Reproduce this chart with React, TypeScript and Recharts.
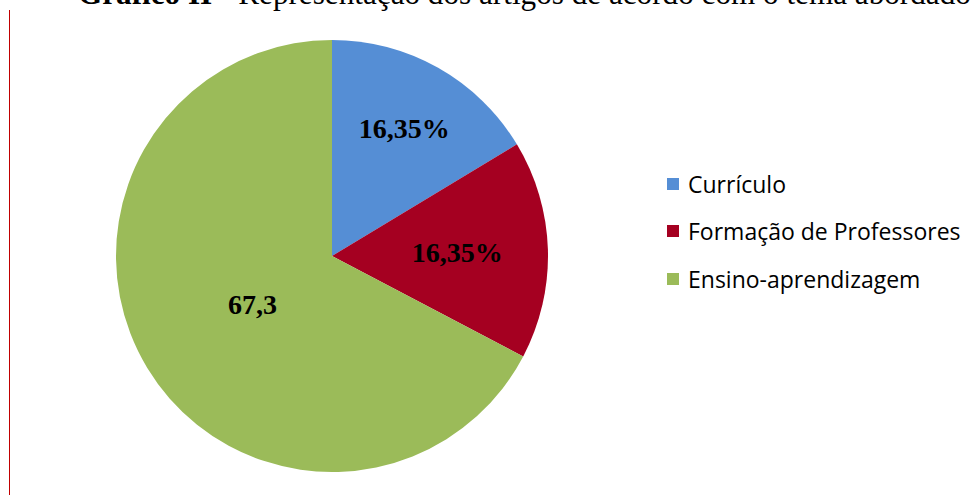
import React from "react";
import { PieChart, Pie, Cell, Legend } from "recharts";

const categories = ["Currículo", "Formação de Professores", "Ensino-aprendizagem"];
const values = [16.35, 16.35, 67.3];
const labels = ["16,35%", "16,35%", "67,3"];
const colors = ["#558ED5", "#A50021", "#9BBB59"];
const labelRadius = [0.68, 0.58, 0.43];

const data = categories.map((name, i) => ({ name, value: values[i] }));
const RADIAN = Math.PI / 180;

const renderLabel = (props: any) => {
  const { cx, cy, midAngle, outerRadius, index } = props;
  const r = outerRadius * labelRadius[index];
  const x = cx + r * Math.cos(-midAngle * RADIAN);
  const y = cy + r * Math.sin(-midAngle * RADIAN);
  return (
    <text
      x={x}
      y={y}
      textAnchor="middle"
      dominantBaseline="central"
      fill="#000"
      fontFamily="'Liberation Serif', 'Times New Roman', serif"
      fontWeight="bold"
      fontSize={28}
    >
      {labels[index]}
    </text>
  );
};

const renderLegend = () => (
  <div style={{ fontFamily: "'Open Sans', 'Noto Sans', sans-serif", fontSize: 23, color: "#000" }}>
    {categories.map((c, i) => (
      <div key={c} style={{ display: "flex", alignItems: "center", height: 47.5 }}>
        <span style={{ display: "inline-block", width: 12, height: 12, background: colors[i], marginRight: 9, flex: "none" }} />
        <span style={{ whiteSpace: "nowrap" }}>{c}</span>
      </div>
    ))}
  </div>
);

export default function App() {
  return (
    <div style={{ position: "fixed", left: 0, top: 0, width: 974, height: 495, background: "#fff", overflow: "hidden" }}>
      <div
        style={{
          position: "absolute",
          left: 78,
          top: -24,
          whiteSpace: "nowrap",
          fontFamily: "'Liberation Serif', 'Times New Roman', serif",
          fontSize: 31.2,
          lineHeight: "36px",
          color: "#000",
        }}
      >
        <b>Gráfico II</b> - Representação dos artigos de acordo com o tema abordado
      </div>
      <div style={{ position: "absolute", left: 9, top: 10, width: 1, height: 485, background: "#C00000" }} />
      <PieChart width={974} height={495} style={{ position: "absolute", left: 0, top: 0 }}>
        <Pie
          data={data}
          dataKey="value"
          nameKey="name"
          cx={327}
          cy={251}
          outerRadius={216}
          startAngle={90}
          endAngle={-270}
          stroke="none"
          label={renderLabel}
          labelLine={false}
          isAnimationActive={false}
        >
          {data.map((d, i) => (
            <Cell key={d.name} fill={colors[i]} />
          ))}
        </Pie>
        <Legend
          content={renderLegend}
          layout="vertical"
          verticalAlign="top"
          align="right"
          wrapperStyle={{ position: "absolute", left: 667, top: 160, width: 300 }}
        />
      </PieChart>
    </div>
  );
}
